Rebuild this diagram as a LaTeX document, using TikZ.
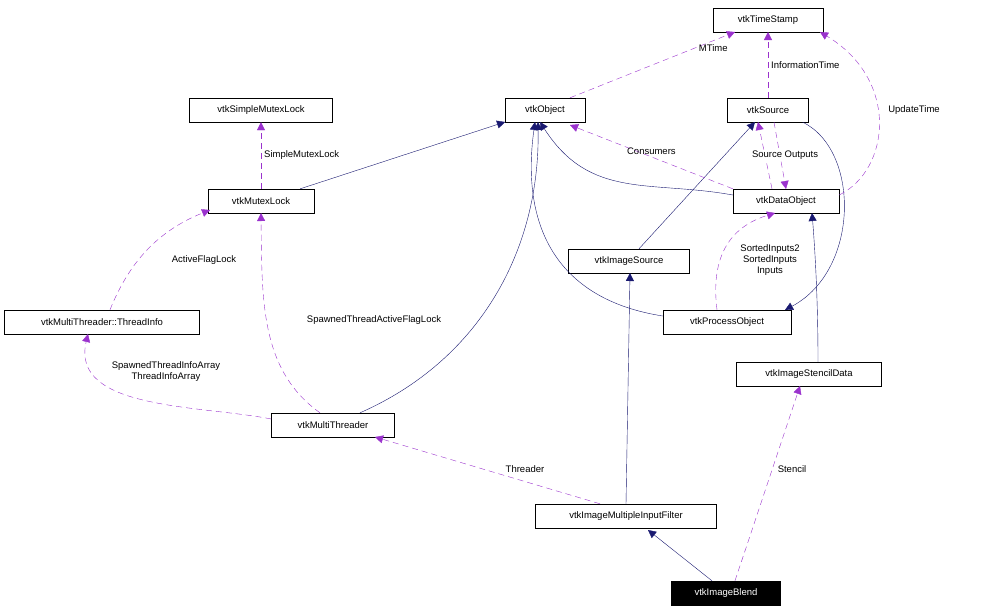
\documentclass[tikz,border=0pt]{standalone}
\usepackage{fontspec}
\setmainfont{Liberation Sans}
\usetikzlibrary{arrows.meta}
\definecolor{nv}{HTML}{191970}
\definecolor{pu}{HTML}{9A32CD}
\begin{document}
\begin{tikzpicture}[x=1pt,y=-1pt,font=\fontsize{9.5}{11}\selectfont,
 box/.style={draw,fill=white,inner sep=0pt,minimum height=24pt},
 inh/.style={draw=nv,-{Triangle[length=8pt,width=8pt,fill=nv]}},
 use/.style={draw=pu,dash pattern=on 6pt off 4pt,-{Triangle[length=8pt,width=8pt,fill=pu]}},
 lab/.style={align=center,inner sep=1pt}]
\useasboundingbox (0,0) rectangle (992,611);
\node[box,minimum width=110pt] (ts) at (768,20) {vtkTimeStamp};
\node[box,minimum width=80pt] (obj) at (545,110) {vtkObject};
\node[box,minimum width=143pt] (sml) at (261,110) {vtkSimpleMutexLock};
\node[box,minimum width=81pt] (src) at (768,110) {vtkSource};
\node[box,minimum width=106pt] (ml) at (261,201) {vtkMutexLock};
\node[box,minimum width=106pt] (do) at (786,201) {vtkDataObject};
\node[box,minimum width=121pt] (is) at (629,261) {vtkImageSource};
\node[box,minimum width=195pt] (ti) at (102,322) {vtkMultiThreader::ThreadInfo};
\node[box,minimum width=128pt] (po) at (727,322) {vtkProcessObject};
\node[box,minimum width=145pt] (isd) at (809,374) {vtkImageStencilData};
\node[box,minimum width=123pt] (mt) at (333,425) {vtkMultiThreader};
\node[box,minimum width=181pt] (mif) at (626,516) {vtkImageMultipleInputFilter};
\node[box,minimum width=109pt,fill=black,text=white] (ib) at (726,593) {vtkImageBlend};
% inheritance
\draw[inh] (ml.north east)++(-14,0) coordinate (a1) -- (505,122);
\draw[inh] (mt.north)++(27,0) coordinate (a2) .. controls (480,360) and (540,250) .. (538,122);
\draw[inh] (do.west)++(0,-6) coordinate (a3) .. controls (650,180) and (590,200) .. (540,122);
\draw[inh] (po.west)++(0,-6) coordinate (a4) .. controls (560,300) and (520,230) .. (535,122);
\draw[inh] (is.north)++(10,0) coordinate (a5) -- (755,122);
\draw[inh] (src.south east)++(-6,0) coordinate (a6) .. controls (860,150) and (860,270) .. (785,310);
\draw[inh] (isd.north)++(9,0) coordinate (a7) .. controls (818,300) and (815,250) .. (812,213);
\draw[inh] (mif.north) -- (630,273);
\draw[inh] (ib.north)++(-14,0) coordinate (a8) -- (648,530);
% usage
\draw[use] (obj.north)++(25,0) coordinate (b1) -- node[lab,pos=0.75,right=4pt]{MTime} (735,32);
\draw[use] (src.north) -- node[lab,right=2pt]{InformationTime} (768,32);
\draw[use] (do.east)++(0,-6) coordinate (b2) .. controls (890,170) and (900,80) .. (820,32);
\node[lab] at (914,110) {UpdateTime};
\draw[use] (ml.north) -- node[lab,right=2pt]{SimpleMutexLock} (sml.south);
\draw[use] (do.north west) -- node[lab,pos=0.5,above=1pt]{Consumers} (570,125);
\draw[use] (src.south)++(6,0) coordinate (b3) -- (786,189);
\draw[use] (do.north)++(-14,0) coordinate (b4) -- (758,122);
\node[lab,fill=white] at (785,155) {Source Outputs};
\draw[use] (po.north)++(-10,0) coordinate (b5) .. controls (712,270) and (720,230) .. (775,213);
\node[lab] at (770,260) {SortedInputs2\\SortedInputs\\Inputs};
\draw[use] (mt.north)++(-13,0) coordinate (b6) .. controls (260,370) and (262,300) .. (261,213);
\node[lab,fill=white] at (374,320) {SpawnedThreadActiveFlagLock};
\draw[use] (ti.north)++(8,0) coordinate (b7) .. controls (130,260) and (160,230) .. (210,210);
\node[lab] at (204,260) {ActiveFlagLock};
\draw[use] (mt.west)++(0,-6) coordinate (b8) .. controls (200,405) and (70,410) .. (88,334);
\node[lab] at (166,372) {SpawnedThreadInfoArray\\ThreadInfoArray};
\draw[use] (mif.north)++(-26,0) coordinate (b9) -- (375,437);
\node[lab] at (525,469) {Threader};
\draw[use] (ib.north)++(9,0) coordinate (b10) -- (800,386);
\node[lab] at (792,469) {Stencil};
\end{tikzpicture}
\end{document}
